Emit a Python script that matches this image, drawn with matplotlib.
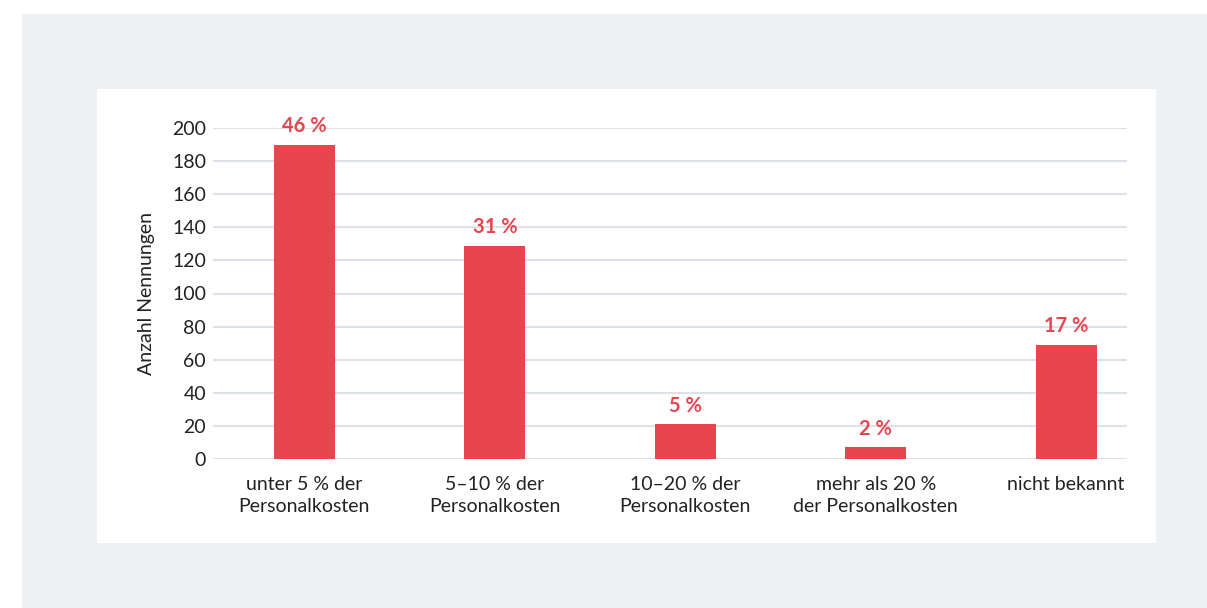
import matplotlib
matplotlib.use('Agg')
import matplotlib.pyplot as plt
from matplotlib.patches import Rectangle

# Anzahl Nennungen je Kategorie
kategorien = ['unter 5 % der\nPersonalkosten', '5–10 % der\nPersonalkosten',
              '10–20 % der\nPersonalkosten', 'mehr als 20 %\nder Personalkosten',
              'nicht bekannt']
nennungen = [190, 129, 21, 7, 69]
anteile = ['46 %', '31 %', '5 %', '2 %', '17 %']
yticks = [0, 20, 40, 60, 80, 100, 120, 140, 160, 180, 200]

rot = '#e8454f'
grid_col = '#dde2e8'
text_col = '#222222'

plt.rcParams['font.family'] = ['Lato', 'DejaVu Sans']

W, H = 1207, 608
fig = plt.figure(figsize=(W / 100, H / 100), dpi=100, facecolor='white')

# grauer Hintergrund und weisse Karte (hinter den Achsen)
fig.patches.append(Rectangle((22 / W, 0), 1 - 22 / W, 1 - 14 / H,
                             transform=fig.transFigure, facecolor='#edf1f4',
                             edgecolor='none', zorder=-2))
fig.patches.append(Rectangle((97 / W, 1 - 543 / H), (1156 - 97) / W, (543 - 89) / H,
                             transform=fig.transFigure, facecolor='white',
                             edgecolor='none', zorder=-1))

ax = fig.add_axes([213 / W, 1 - 459 / H, (1127 - 213) / W, (459 - 128) / H])
ax.set_facecolor('none')

x = list(range(len(kategorien)))
bars = ax.bar(x, nennungen, width=0.32, color=rot, zorder=3)

for b, lab in zip(bars, anteile):
    ax.annotate(lab, (b.get_x() + b.get_width() / 2, b.get_height()),
                xytext=(0, 6), textcoords='offset points', ha='center', va='bottom',
                color=rot, fontsize=14.5, fontweight='bold')

ax.set_xlim(-0.48, 4.32)
ax.set_ylim(0, 200)
ax.set_yticks(yticks)
ax.set_xticks(x)
ax.set_xticklabels(kategorien, fontsize=14, color=text_col, linespacing=1.4)
ax.tick_params(axis='y', labelsize=14, labelcolor=text_col, length=0, pad=5)
ax.tick_params(axis='x', length=0, pad=12)
ax.yaxis.grid(True, color=grid_col, linewidth=1.5, zorder=0)
for s in ax.spines.values():
    s.set_visible(False)
ax.set_ylabel('Anzahl Nennungen', fontsize=14, color=text_col, labelpad=12)

fig.savefig('out.png', dpi=100, facecolor=fig.get_facecolor())
